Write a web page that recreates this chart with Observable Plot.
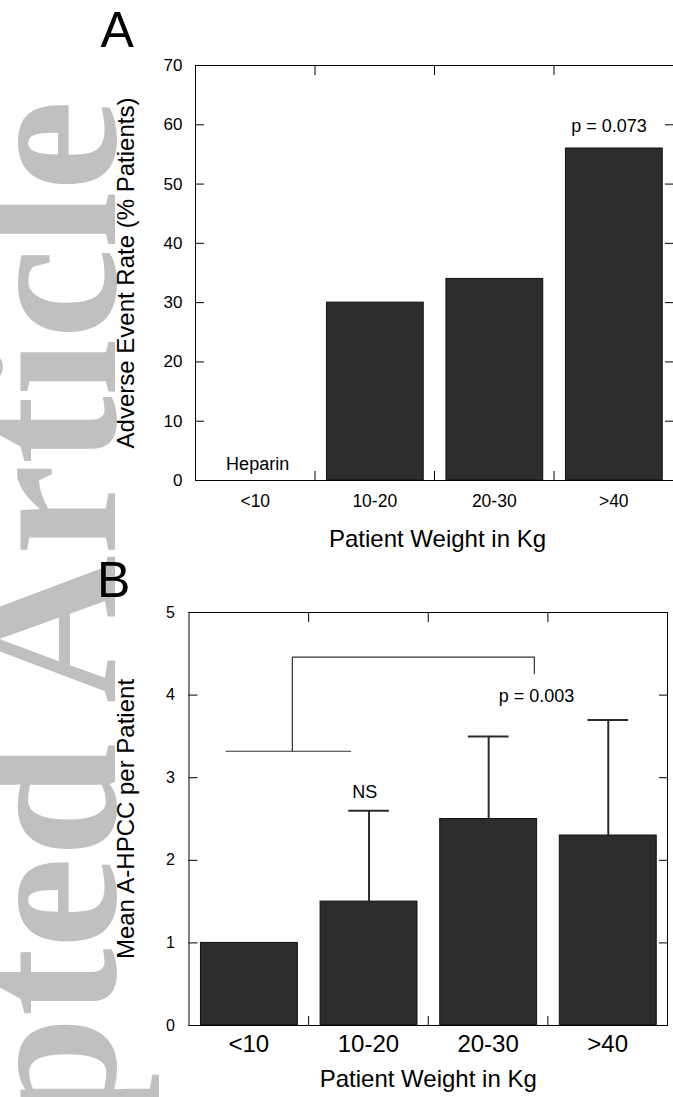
<!DOCTYPE html>
<html><head><meta charset="utf-8">
<script src="https://cdn.jsdelivr.net/npm/d3@7"></script>
<script src="https://cdn.jsdelivr.net/npm/@observablehq/plot@0.6"></script>
<style>
body{margin:0;background:#fff;}
#wrap{position:relative;width:673px;height:1097px;overflow:hidden;}
#wm{position:absolute;left:0;top:0;}
#plots{position:absolute;left:0;top:0;}
#plots svg{display:block;}
</style></head><body>
<div id="wrap"><svg id="wm" width="673" height="1097"></svg><div id="plots"></div></div>
<script>
// ---- data ----
const weights = ["<10", "10-20", "20-30", ">40"];
const eventRate = [0, 30, 34, 56];            // panel A, % patients
const meanHPCC = [1.0, 1.5, 2.5, 2.3];        // panel B, mean
const hpccUpper = [null, 2.6, 3.5, 3.7];      // panel B, upper error bar
const yTicksA = [0, 10, 20, 30, 40, 50, 60, 70];
const yTicksB = [0, 1, 2, 3, 4, 5];
const xLabel = "Patient Weight in Kg";
const yLabelA = "Adverse Event Rate (% Patients)";
const yLabelB = "Mean A-HPCC per Patient";
const annotA = [{label: "Heparin", x: 0.52, y: 1.77}, {label: "p = 0.073", x: 3.46, y: 58.75}];
const annotB = [{label: "NS", x: 1.47, y: 2.75}, {label: "p = 0.003", x: 2.905, y: 3.92}];
const bracketLow = [{x1: 0.31, x2: 1.36, y: 3.32}];
const bracketPath = [{x: 0.864, y: 3.32}, {x: 0.864, y: 4.46}, {x: 2.887, y: 4.46}, {x: 2.887, y: 4.26}];

const font = "'Liberation Sans', Arial, Helvetica, sans-serif";
const catTicks = weights.map((w, i) => i + 0.5);
const bounds = [1, 2, 3];
const fmt = t => weights[Math.floor(t)];
const intFmt = d => String(d);
const rowsA = weights.map((w, i) => ({w, i, v: eventRate[i]}));
const rowsB = weights.map((w, i) => ({w, i, m: meanHPCC[i], u: hpccUpper[i]}));
const barFill = "#2d2d2d", barStroke = "#111";

// watermark
d3.select("#wm").append("text")
  .attr("transform", "translate(115,100) rotate(-90)")
  .attr("text-anchor", "end")
  .attr("font-family", "'Liberation Serif', 'Times New Roman', serif")
  .attr("font-weight", "bold")
  .attr("font-size", 205)
  .attr("fill", "#c0c0c0")
  .text("Accepted Article");

function frameTicks(yt) {
  return [
    Plot.axisY({anchor: "left", ticks: yt, tickSize: 9, dx: 9, fill: "none", label: null, stroke: "black"}),
    Plot.axisY({anchor: "right", ticks: yt, tickSize: 9, dx: -9, fill: "none", label: null, stroke: "black"}),
    Plot.axisX({anchor: "top", ticks: bounds, tickSize: 9, dy: 9, fill: "none", label: null, stroke: "black"}),
    Plot.axisX({anchor: "bottom", ticks: bounds, tickSize: 9, dy: -9, fill: "none", label: null, stroke: "black"})
  ];
}

const plotA = Plot.plot({
  width: 673, height: 560,
  marginLeft: 195, marginRight: 0, marginTop: 65, marginBottom: 80,
  style: {fontFamily: font, background: "transparent", overflow: "visible", color: "black"},
  x: {domain: [0, 4], axis: null},
  y: {domain: [0, 70], axis: null},
  marks: [
    Plot.rectY(rowsA.filter(d => d.v > 0), {x1: d => d.i + 0.1, x2: d => d.i + 0.91, y: "v", fill: barFill, stroke: barStroke, strokeWidth: 1}),
    Plot.frame({stroke: "black"}),
    ...frameTicks(yTicksA),
    Plot.axisY({anchor: "left", ticks: yTicksA, tickFormat: intFmt, tickSize: 0, tickPadding: 13, fontSize: 17, label: null}),
    Plot.axisX({anchor: "bottom", ticks: catTicks, tickFormat: fmt, tickSize: 0, tickPadding: 13.6, fontSize: 17.5, label: null}),
    Plot.text([xLabel], {text: d => d, frameAnchor: "bottom", dy: 66, dx: 3, textAnchor: "middle", lineAnchor: "bottom", fontSize: 24}),
    Plot.text([yLabelA], {text: d => d, frameAnchor: "left", rotate: -90, dx: -62, textAnchor: "middle", lineAnchor: "bottom", fontSize: 24}),
    Plot.text(["A"], {text: d => d, frameAnchor: "top-left", dx: -95, dy: -18.3, textAnchor: "start", lineAnchor: "bottom", fontSize: 50}),
    Plot.text(annotA, {x: "x", y: "y", text: "label", lineAnchor: "bottom", fontSize: 18})
  ]
});

const plotB = Plot.plot({
  width: 673, height: 537,
  marginLeft: 188.5, marginRight: 6, marginTop: 52, marginBottom: 72,
  style: {fontFamily: font, background: "transparent", overflow: "visible", color: "black"},
  x: {domain: [0, 4], axis: null},
  y: {domain: [0, 5], axis: null},
  marks: [
    Plot.rectY(rowsB, {x1: d => d.i + 0.1, x2: d => d.i + 0.91, y: "m", fill: barFill, stroke: barStroke, strokeWidth: 1}),
    Plot.ruleX(rowsB.filter(d => d.u != null), {x: d => d.i + 0.505, y1: "m", y2: "u", stroke: "#2b2b2b", strokeWidth: 2}),
    Plot.ruleY(rowsB.filter(d => d.u != null), {x1: d => d.i + 0.505 - 0.17, x2: d => d.i + 0.505 + 0.17, y: "u", stroke: "#2b2b2b", strokeWidth: 2}),
    Plot.ruleY(bracketLow, {x1: "x1", x2: "x2", y: "y", stroke: "#333", strokeWidth: 1.2}),
    Plot.line(bracketPath, {x: "x", y: "y", stroke: "#333", strokeWidth: 1.2}),
    Plot.frame({stroke: "black"}),
    ...frameTicks(yTicksB),
    Plot.axisY({anchor: "left", ticks: yTicksB, tickFormat: intFmt, tickSize: 0, tickPadding: 14, fontSize: 16, label: null}),
    Plot.axisX({anchor: "bottom", ticks: catTicks, tickFormat: fmt, tickSize: 0, tickPadding: 9.7, fontSize: 24, label: null}),
    Plot.text([xLabel], {text: d => d, frameAnchor: "bottom", dy: 61, textAnchor: "middle", lineAnchor: "bottom", fontSize: 24}),
    Plot.text([yLabelB], {text: d => d, frameAnchor: "left", rotate: -90, dx: -55.5, textAnchor: "middle", lineAnchor: "bottom", fontSize: 24}),
    Plot.text(["B"], {text: d => d, frameAnchor: "top-left", dx: -92, dy: -15.3, textAnchor: "start", lineAnchor: "bottom", fontSize: 50}),
    Plot.text(annotB, {x: "x", y: "y", text: "label", lineAnchor: "bottom", fontSize: 18})
  ]
});

document.getElementById("plots").append(plotA, plotB);
</script>
</body></html>
